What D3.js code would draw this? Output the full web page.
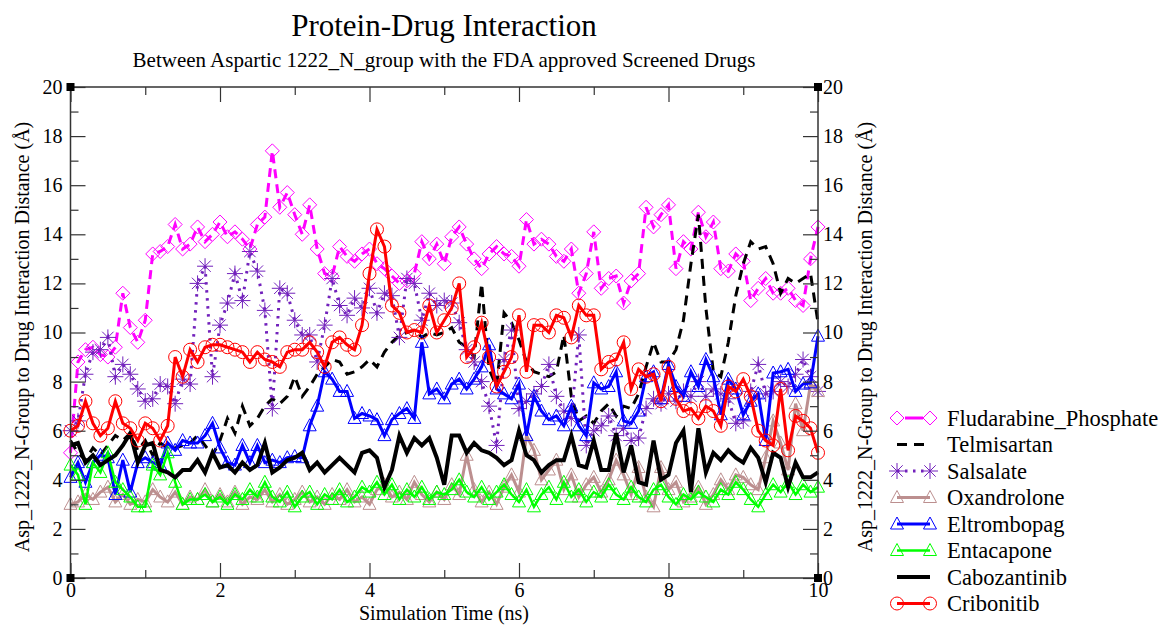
<!DOCTYPE html>
<html>
<head>
<meta charset="utf-8">
<script src="https://cdn.jsdelivr.net/npm/d3@7"></script>
<style>
  body { margin: 0; background: #fff; }
  svg { display: block; }
  text { font-family: "Liberation Serif", "Times New Roman", serif; }
</style>
</head>
<body>
<svg class="chart"></svg>
<script>
// simulation time grid, ns
const time = d3.range(101).map(i => i / 10);

const fludarabine = [5.1,8.8,9.3,9.4,9.1,9.0,9.4,11.6,10.2,9.6, 10.5,13.2,13.3,13.5,14.4,13.4,13.6,14.3,13.7,14.0,
  14.5,13.9,14.1,13.8,13.4,14.4,14.7,17.4,15.1,15.7, 14.8,14.0,15.2,13.4,12.4,12.3,13.5,13.1,12.9,13.2,
  13.4,12.8,12.6,12.3,12.0,12.1,12.4,13.7,13.0,13.6, 12.8,13.9,14.3,13.6,13.0,12.6,13.2,13.5,13.2,13.1,
  12.7,14.6,13.6,13.8,13.6,13.1,12.9,13.4,11.6,12.4, 14.1,11.8,12.2,12.3,11.2,12.1,12.4,15.1,14.3,14.8,
  15.2,12.6,13.7,13.4,14.9,13.9,14.5,12.6,12.5,13.2, 12.9,11.3,11.8,12.2,11.6,11.6,11.8,11.3,11.1,13.0, 14.3];

const telmisartan = [5.6,5.1,4.8,5.3,5.0,5.4,5.8,5.6,5.9,5.2, 5.6,5.0,5.5,5.3,5.3,5.4,5.5,5.8,5.4,5.0,
  5.6,6.5,5.9,7.0,6.2,6.5,7.0,7.3,7.1,7.4, 8.2,7.4,7.8,8.3,8.6,8.9,8.8,8.3,8.4,8.6,
  8.9,8.6,9.2,9.6,9.9,10.0,10.1,9.8,10.0,9.9, 10.0,10.2,9.6,9.4,9.0,12.0,8.5,7.8,10.8,10.4,
  9.7,8.8,8.4,8.3,8.2,8.4,9.9,7.4,6.4,6.6, 6.3,6.8,7.1,6.6,7.0,6.9,7.5,8.6,9.6,8.8,
  8.8,9.3,10.5,12.8,14.8,11.0,8.4,8.2,9.6,11.5, 12.8,13.7,13.4,13.5,12.8,11.6,12.2,12.0,12.2,12.4, 10.4];

const salsalate = [6.0,6.4,8.3,9.2,9.3,9.8,8.2,8.7,8.3,7.7, 7.2,7.3,7.9,7.8,7.1,8.1,7.9,12.0,12.7,8.2,
  10.3,11.2,12.4,11.3,13.3,12.5,10.9,6.9,11.8,11.6, 10.5,9.9,9.9,8.8,10.3,12.2,11.1,10.7,11.4,11.0,
  11.8,10.8,11.6,11.5,9.8,12.2,12.0,10.5,11.6,11.1, 11.3,11.2,10.4,9.3,8.8,8.0,7.0,5.4,8.9,10.1,
  6.9,7.2,7.5,7.8,8.7,7.4,6.8,6.5,9.9,5.4, 6.0,6.2,6.6,5.8,6.1,5.6,5.7,6.9,7.3,7.1,
  7.5,7.2,7.6,7.4,8.0,7.4,7.7,7.5,7.3,6.3, 6.4,7.6,8.7,7.5,7.6,8.0,7.8,8.3,8.9,8.2, 7.6];

const oxandrolone = [3.0,3.1,3.4,3.2,3.5,3.7,3.1,3.4,3.0,3.2, 3.1,3.6,3.3,3.1,3.5,3.0,3.3,3.2,3.6,3.1,
  3.4,3.1,3.5,3.0,3.3,3.2,3.6,3.1,3.4,3.0, 3.2,3.5,3.1,3.3,3.0,3.4,3.2,3.6,3.1,3.3,
  3.0,3.6,3.8,3.3,3.5,3.2,3.9,3.4,3.1,3.5, 3.2,3.8,3.4,5.0,3.6,3.1,3.5,3.0,3.7,4.2,
  3.5,5.8,5.2,4.0,4.4,4.8,3.6,4.2,3.3,3.8, 4.1,3.5,4.0,4.8,4.2,3.4,4.5,3.3,2.9,4.5,
  3.6,3.9,3.1,3.3,3.7,3.0,3.4,4.0,3.6,4.2, 4.1,3.8,3.6,4.9,6.4,5.5,4.4,7.1,6.0,7.9, 7.6];

const eltrombopag = [4.1,4.7,3.9,4.7,5.0,4.9,3.4,4.8,3.5,4.7, 4.9,4.7,4.6,5.5,5.2,5.6,5.5,5.5,5.8,6.3,
  5.3,4.7,4.6,5.4,4.7,5.4,4.7,4.8,4.7,4.9, 4.95,4.9,6.2,7.0,8.4,8.1,7.6,7.6,6.5,6.7,
  6.6,6.45,5.8,6.45,6.7,6.9,6.5,9.6,7.5,7.7, 7.3,7.9,8.1,7.7,8.1,8.6,9.5,7.7,7.5,7.3,
  7.9,5.8,7.4,6.8,6.45,6.6,6.2,7.0,6.2,5.8, 7.95,7.7,7.8,8.4,6.4,6.3,6.8,8.2,8.4,7.3,
  8.7,7.8,7.4,8.4,7.8,8.9,8.2,6.65,8.1,7.7, 6.65,7.2,7.5,5.6,8.35,8.4,8.5,7.6,7.9,7.95, 9.85];

const entacapone = [4.6,4.2,3.0,4.7,4.3,5.1,3.9,3.6,3.3,2.9, 2.9,4.6,4.2,5.1,3.9,3.0,3.2,3.2,3.4,3.1,
  3.3,3.0,3.4,3.2,3.6,3.3,3.9,3.3,3.1,3.5, 2.9,3.3,3.5,3.0,3.4,3.2,3.6,3.1,3.3,3.7,
  3.5,3.9,3.4,3.8,3.2,3.6,3.3,3.7,3.2,3.5, 3.4,3.6,4.0,3.5,3.3,3.7,3.2,3.5,3.8,3.4,
  3.1,3.6,2.9,3.4,3.7,3.2,3.9,3.3,3.6,3.1, 3.5,3.3,3.8,3.4,3.2,3.7,3.3,3.1,3.6,3.8,
  3.3,3.0,3.4,3.2,3.5,3.3,3.1,3.6,3.4,3.9, 3.6,3.2,2.9,3.4,3.8,3.5,3.9,3.4,3.8,3.5, 3.7];

const cabozantinib = [5.4,5.5,4.7,5.0,4.6,4.8,5.0,5.4,5.9,4.7, 5.4,5.5,4.4,4.3,4.1,4.4,4.4,4.8,4.3,5.1,
  4.5,4.6,4.3,4.7,4.4,4.6,5.5,4.3,4.5,4.8, 4.9,5.1,4.4,4.7,4.3,4.6,4.9,4.6,4.3,5.1,
  5.2,4.9,3.7,4.4,5.8,5.1,5.7,5.4,5.7,4.9, 3.8,5.8,5.8,5.1,5.5,5.2,5.1,4.9,4.6,4.8,
  6.0,5.0,4.8,4.3,4.6,4.8,4.8,5.8,4.6,4.5, 5.6,4.4,4.4,5.9,4.3,5.4,3.9,3.8,5.6,4.0,
  4.2,5.5,6.0,3.5,6.1,4.3,5.1,4.8,5.2,4.9, 4.7,5.3,4.9,3.9,5.1,4.9,3.7,4.7,4.1,4.1, 4.3];

const cribonitib = [6.0,6.2,7.2,6.3,5.8,6.1,7.2,6.3,6.1,5.6, 6.3,6.1,5.6,6.2,9.0,8.2,9.3,8.8,9.4,9.5,
  9.5,9.4,9.3,9.2,8.8,9.2,8.9,8.8,8.6,9.2, 9.3,9.3,9.6,9.2,8.6,9.6,9.8,9.5,9.3,10.3,
  12.4,14.2,13.5,11.1,10.8,10.0,10.1,10.0,11.1,10.0, 10.5,11.0,12.0,9.0,9.4,10.4,9.0,7.8,8.4,9.0,
  10.7,8.4,10.3,10.3,10.0,10.7,10.6,9.8,11.1,10.7, 10.7,8.5,8.8,8.9,9.6,7.7,8.5,8.2,8.3,7.2,
  8.6,7.3,6.8,6.9,6.5,7.0,6.8,6.2,7.8,7.6, 8.1,7.4,6.0,5.6,5.4,7.7,5.2,6.6,6.4,6.1, 5.1];

const names = ["Fludarabine_Phosphate", "Telmisartan", "Salsalate", "Oxandrolone",
  "Eltrombopag", "Entacapone", "Cabozantinib", "Cribonitib"];
const xTicks = [0, 2, 4, 6, 8, 10];
const yTicks = [0, 2, 4, 6, 8, 10, 12, 14, 16, 18, 20];

const series = [
  {name: names[0], values: fludarabine, color: "#ff00ff", width: 3, dash: "9,6", marker: "diamond"},
  {name: names[1], values: telmisartan, color: "#000000", width: 3, dash: "10,7", marker: null},
  {name: names[2], values: salsalate, color: "#7221bc", width: 3, dash: "2.5,5.5", marker: "star"},
  {name: names[3], values: oxandrolone, color: "#bc8f8f", width: 3, dash: null, marker: "triangle"},
  {name: names[4], values: eltrombopag, color: "#0000ff", width: 3, dash: null, marker: "triangle"},
  {name: names[5], values: entacapone, color: "#00ff00", width: 2.5, dash: null, marker: "triangle"},
  {name: names[6], values: cabozantinib, color: "#000000", width: 4, dash: null, marker: null},
  {name: names[7], values: cribonitib, color: "#ff0000", width: 3, dash: null, marker: "circle"}
];

const width = 1160, height = 625;
const plot = {left: 70.5, right: 818, top: 87, bottom: 578};
const font = "Liberation Serif, Times New Roman, serif";

const svg = d3.select(".chart")
  .attr("width", width)
  .attr("height", height);

const x = d3.scaleLinear().domain([0, 10]).range([plot.left, plot.right]);
const y = d3.scaleLinear().domain([0, 20]).range([plot.bottom, plot.top]);

function label(sel, size) {
  return sel.attr("font-family", font).attr("font-size", size).attr("fill", "#000");
}

// titles
svg.append("text")
  .attr("x", 444).attr("y", 36)
  .attr("text-anchor", "middle")
  .call(label, 31)
  .text("Protein-Drug Interaction");

svg.append("text")
  .attr("x", 444).attr("y", 67)
  .attr("text-anchor", "middle")
  .call(label, 21)
  .text("Between Aspartic 1222_N_group with the FDA approved Screened Drugs");

// markers
function markerPath(type) {
  if (type === "diamond") return "M0,-7L7,0L0,7L-7,0Z";
  if (type === "triangle") return "M0,-7L6.5,5L-6.5,5Z";
  if (type === "star") {
    const s = 8, d = 5.7;
    return `M${-s},0L${s},0M0,${-s}L0,${s}M${-d},${-d}L${d},${d}M${-d},${d}L${d},${-d}`;
  }
  return null;
}

function drawMarker(g, type, color) {
  if (type === "circle") {
    g.append("circle").attr("r", 6.5)
      .attr("fill", "none").attr("stroke", color).attr("stroke-width", 1);
  } else {
    g.append("path").attr("d", markerPath(type))
      .attr("fill", "none").attr("stroke", color).attr("stroke-width", 1);
  }
}

const line = d3.line()
  .x((d, i) => x(time[i]))
  .y(d => y(d));

const plotArea = svg.append("g");

series.forEach(s => {
  const g = plotArea.append("g");
  g.append("path")
    .datum(s.values)
    .attr("d", line)
    .attr("fill", "none")
    .attr("stroke", s.color)
    .attr("stroke-width", s.width)
    .attr("stroke-linejoin", "miter")
    .attr("stroke-dasharray", s.dash);
  if (s.marker) {
    g.selectAll(".m")
      .data(s.values)
      .enter()
      .append("g")
        .attr("transform", (d, i) => `translate(${x(time[i])},${y(d)})`)
        .each(function() { drawMarker(d3.select(this), s.marker, s.color); });
  }
});

// axes, ticks pointing inward
const minorX = d3.range(1, 10, 2);
const minorY = d3.range(1, 20, 2);

function styleAxis(g) {
  g.attr("font-family", font).attr("font-size", 20);
  g.select(".domain").remove();
  g.selectAll("line").attr("stroke", "#333").attr("stroke-width", 1.2);
  g.selectAll("text").attr("fill", "#000");
}

svg.append("g")
  .attr("transform", `translate(0,${plot.bottom})`)
  .call(d3.axisBottom(x).tickValues(xTicks).tickSize(-15).tickPadding(5).tickFormat(d3.format("d")))
  .call(styleAxis);
svg.append("g")
  .attr("transform", `translate(0,${plot.bottom})`)
  .call(d3.axisBottom(x).tickValues(minorX).tickSize(-8).tickFormat(""))
  .call(styleAxis);
svg.append("g")
  .attr("transform", `translate(0,${plot.top})`)
  .call(d3.axisTop(x).tickValues(xTicks).tickSize(-15).tickFormat(""))
  .call(styleAxis);
svg.append("g")
  .attr("transform", `translate(0,${plot.top})`)
  .call(d3.axisTop(x).tickValues(minorX).tickSize(-8).tickFormat(""))
  .call(styleAxis);

svg.append("g")
  .attr("transform", `translate(${plot.left},0)`)
  .call(d3.axisLeft(y).tickValues(yTicks).tickSize(-15).tickPadding(8).tickFormat(d3.format("d")))
  .call(styleAxis);
svg.append("g")
  .attr("transform", `translate(${plot.left},0)`)
  .call(d3.axisLeft(y).tickValues(minorY).tickSize(-8).tickFormat(""))
  .call(styleAxis);
svg.append("g")
  .attr("transform", `translate(${plot.right},0)`)
  .call(d3.axisRight(y).tickValues(yTicks).tickSize(-15).tickPadding(5).tickFormat(d3.format("d")))
  .call(styleAxis);
svg.append("g")
  .attr("transform", `translate(${plot.right},0)`)
  .call(d3.axisRight(y).tickValues(minorY).tickSize(-8).tickFormat(""))
  .call(styleAxis);

// frame
svg.append("rect")
  .attr("x", plot.left).attr("y", plot.top)
  .attr("width", plot.right - plot.left)
  .attr("height", plot.bottom - plot.top)
  .attr("fill", "none")
  .attr("stroke", "#333")
  .attr("stroke-width", 1.5);

[[plot.left, plot.top], [plot.right, plot.top], [plot.left, plot.bottom], [plot.right, plot.bottom]]
  .forEach(([cx, cy]) => {
    svg.append("rect")
      .attr("x", cx - 4).attr("y", cy - 4)
      .attr("width", 8).attr("height", 8)
      .attr("fill", "#000");
  });

// axis labels
svg.append("text")
  .attr("x", 444).attr("y", 619.5)
  .attr("text-anchor", "middle")
  .call(label, 20)
  .text("Simulation Time (ns)");

const yLabel = "Asp_1222_N-Group to Drug Interaction Distance (Å)";
svg.append("text")
  .attr("transform", "translate(29,337) rotate(-90)")
  .attr("text-anchor", "middle")
  .call(label, 20)
  .text(yLabel);
svg.append("text")
  .attr("transform", "translate(872,337) rotate(-90)")
  .attr("text-anchor", "middle")
  .call(label, 20)
  .text(yLabel);

// legend
const legend = svg.append("g").attr("transform", "translate(897,418)");
series.forEach((s, i) => {
  const row = legend.append("g").attr("transform", `translate(0,${i * 26.5})`);
  if (s.dash) {
    row.append("line")
      .attr("x1", s.marker === "diamond" ? 8 : 0).attr("x2", s.marker === "diamond" ? 26 : 33)
      .attr("stroke", s.color).attr("stroke-width", s.width)
      .attr("stroke-dasharray", s.marker === "diamond" ? null : s.dash);
  } else {
    row.append("line")
      .attr("x1", 0).attr("x2", 33)
      .attr("stroke", s.color).attr("stroke-width", s.width);
  }
  if (s.marker) {
    [0, 33].forEach(mx => drawMarker(row.append("g").attr("transform", `translate(${mx},0)`), s.marker, s.color));
  }
  row.append("text")
    .attr("x", 50).attr("y", 7.5)
    .call(label, 22.5)
    .text(s.name);
});
</script>
</body>
</html>
